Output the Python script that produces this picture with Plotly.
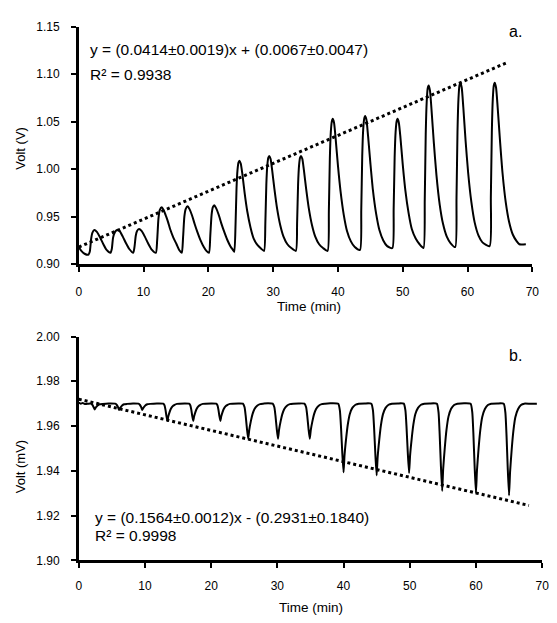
import plotly.graph_objects as go
from plotly.subplots import make_subplots

# --- panel a: voltage (V) vs time (min) ---
time_a = [0, 0.4, 0.9, 1.5,
          1.7, 1.9, 2.1, 2.4, 2.8, 3.3, 3.8, 4.3, 4.9,
          5.1, 5.3, 5.6, 5.9, 6.3, 6.8, 7.3, 7.8, 8.4,
          8.6, 8.8, 9.0, 9.3, 9.7, 10.2, 10.7, 11.3, 11.9,
          12.1, 12.3, 12.5, 12.8, 13.1, 13.5, 13.8, 14.1, 14.6, 15.1, 15.5, 15.9,
          16.1, 16.3, 16.5, 16.8, 17.1, 17.5, 17.9, 18.3, 18.8, 19.3, 19.7, 20.1,
          20.3, 20.5, 20.7, 20.9, 21.2, 21.6, 22.0, 22.4, 22.9, 23.4, 23.8,
          24.0, 24.2, 24.35, 24.5, 24.65, 24.8, 25.0, 25.25, 25.6, 26.0, 26.5, 27.0, 27.6, 28.2,
          28.6, 28.8, 28.95, 29.1, 29.25, 29.4, 29.6, 29.85, 30.2, 30.6, 31.1, 31.6, 32.2, 32.8,
          33.5, 33.7, 33.85, 34.0, 34.15, 34.3, 34.5, 34.75, 35.1, 35.5, 36.0, 36.5, 37.1, 37.7,
          38.4, 38.6, 38.75, 38.9, 39.05, 39.2, 39.4, 39.65, 40.0, 40.4, 40.9, 41.4, 42.0, 42.6,
          43.4, 43.6, 43.75, 43.9, 44.05, 44.2, 44.4, 44.65, 45.0, 45.4, 45.9, 46.4, 47.0, 47.6,
          48.4, 48.6, 48.75, 48.9, 49.05, 49.2, 49.4, 49.65, 50.0, 50.4, 50.9, 51.4, 52.0, 52.6,
          53.2, 53.4, 53.55, 53.7, 53.85, 54.0, 54.2, 54.45, 54.8, 55.2, 55.7, 56.2, 56.8, 57.4,
          58.1, 58.3, 58.45, 58.6, 58.75, 58.9, 59.1, 59.35, 59.7, 60.1, 60.6, 61.1, 61.7, 62.3,
          63.4, 63.6, 63.75, 63.9, 64.05, 64.2, 64.4, 64.65, 65.0, 65.4, 65.9, 66.4, 67.0, 67.6,
          68.0, 69.0]
volt_a = [0.918, 0.914, 0.911, 0.910,
          0.913, 0.926, 0.933, 0.936, 0.934, 0.928, 0.921, 0.915, 0.912,
          0.916, 0.928, 0.934, 0.936, 0.935, 0.929, 0.922, 0.916, 0.912,
          0.918, 0.930, 0.935, 0.937, 0.935, 0.929, 0.922, 0.915, 0.912,
          0.925, 0.948, 0.957, 0.960, 0.957, 0.950, 0.944, 0.937, 0.928, 0.921, 0.915, 0.912,
          0.928, 0.950, 0.958, 0.961, 0.958, 0.951, 0.942, 0.934, 0.925, 0.918, 0.914, 0.912,
          0.930, 0.952, 0.960, 0.962, 0.959, 0.952, 0.943, 0.935, 0.926, 0.919, 0.915,
          0.913, 0.942, 0.980, 0.999, 1.007, 1.009, 1.006, 0.995, 0.975, 0.956, 0.939, 0.927, 0.920, 0.916,
          0.914, 0.944, 0.984, 1.004, 1.012, 1.014, 1.011, 0.999, 0.979, 0.959, 0.941, 0.929, 0.921, 0.917,
          0.914, 0.944, 0.984, 1.004, 1.012, 1.014, 1.011, 0.999, 0.979, 0.959, 0.941, 0.929, 0.921, 0.917,
          0.914, 0.956, 1.011, 1.039, 1.050, 1.053, 1.049, 1.032, 1.004, 0.977, 0.952, 0.935, 0.924, 0.918,
          0.915, 0.957, 1.014, 1.042, 1.053, 1.056, 1.052, 1.035, 1.007, 0.978, 0.953, 0.936, 0.925, 0.919,
          0.917, 0.958, 1.012, 1.039, 1.050, 1.053, 1.049, 1.033, 1.005, 0.978, 0.954, 0.937, 0.927, 0.921,
          0.917, 0.968, 1.037, 1.071, 1.085, 1.088, 1.083, 1.062, 1.028, 0.994, 0.963, 0.943, 0.929, 0.922,
          0.918, 0.970, 1.039, 1.074, 1.088, 1.091, 1.086, 1.065, 1.030, 0.996, 0.965, 0.944, 0.930, 0.923,
          0.919, 0.971, 1.039, 1.074, 1.088, 1.091, 1.086, 1.065, 1.031, 0.996, 0.965, 0.945, 0.931, 0.924,
          0.921, 0.921]
trend_a_x = [0, 66]
trend_a_y = [0.918, 1.112]

# --- panel b: voltage (mV) vs time (min) ---
time_b = [0, 0.3, 0.6, 1.0, 1.5,
          1.8, 2.05, 2.25, 2.4, 2.6, 2.85, 3.15, 3.6, 4.5,
          5.5, 5.75, 5.95, 6.1, 6.3, 6.55, 6.85, 7.3, 8.2,
          9.0, 9.25, 9.45, 9.6, 9.8, 10.05, 10.35, 10.8, 11.8,
          12.76, 12.96, 13.1, 13.24, 13.4, 13.52, 13.72, 13.92, 14.16, 14.48, 14.84, 15.24, 16.0,
          16.66, 16.86, 17.0, 17.14, 17.3, 17.42, 17.62, 17.82, 18.06, 18.38, 18.74, 19.14, 20.0,
          20.76, 20.96, 21.1, 21.24, 21.4, 21.52, 21.72, 21.92, 22.16, 22.48, 22.84, 23.24, 24.1,
          24.8, 25.05, 25.22, 25.4, 25.6, 25.75, 26.0, 26.25, 26.55, 26.95, 27.4, 27.9, 28.6,
          29.3, 29.55, 29.72, 29.9, 30.1, 30.25, 30.5, 30.75, 31.05, 31.45, 31.9, 32.4, 33.2,
          34.1, 34.35, 34.52, 34.7, 34.9, 35.05, 35.3, 35.55, 35.85, 36.25, 36.7, 37.2, 38.0,
          39.2, 39.45, 39.62, 39.8, 40.0, 40.15, 40.4, 40.65, 40.95, 41.35, 41.8, 42.3, 43.2,
          44.2, 44.45, 44.62, 44.8, 45.0, 45.15, 45.4, 45.65, 45.95, 46.35, 46.8, 47.3, 48.2,
          49.1, 49.35, 49.52, 49.7, 49.9, 50.05, 50.3, 50.55, 50.85, 51.25, 51.7, 52.2, 53.0,
          54.1, 54.35, 54.52, 54.7, 54.9, 55.05, 55.3, 55.55, 55.85, 56.25, 56.7, 57.2, 58.2,
          59.2, 59.45, 59.62, 59.8, 60.0, 60.15, 60.4, 60.65, 60.95, 61.35, 61.8, 62.3, 63.2,
          64.2, 64.45, 64.62, 64.8, 65.0, 65.15, 65.4, 65.65, 65.95, 66.35, 66.8, 67.3, 68.3, 69.2]
volt_b = [1.9705, 1.9700, 1.9703, 1.9698, 1.9700,
          1.9700, 1.9695, 1.9684, 1.9674, 1.9684, 1.9692, 1.9697, 1.9699, 1.9701,
          1.9700, 1.9694, 1.9683, 1.9672, 1.9683, 1.9692, 1.9697, 1.9699, 1.9701,
          1.9700, 1.9694, 1.9683, 1.9672, 1.9683, 1.9692, 1.9697, 1.9699, 1.9701,
          1.9700, 1.9692, 1.9673, 1.9646, 1.9623, 1.9642, 1.9662, 1.9677, 1.9688, 1.9695, 1.9699, 1.9700, 1.9701,
          1.9700, 1.9692, 1.9673, 1.9646, 1.9623, 1.9642, 1.9662, 1.9677, 1.9688, 1.9695, 1.9699, 1.9700, 1.9701,
          1.9700, 1.9692, 1.9673, 1.9646, 1.9623, 1.9642, 1.9662, 1.9677, 1.9688, 1.9695, 1.9699, 1.9700, 1.9701,
          1.9700, 1.9684, 1.9645, 1.9590, 1.9543, 1.9582, 1.9622, 1.9653, 1.9676, 1.9691, 1.9698, 1.9700, 1.9702,
          1.9700, 1.9684, 1.9645, 1.9590, 1.9543, 1.9582, 1.9622, 1.9653, 1.9676, 1.9691, 1.9698, 1.9700, 1.9701,
          1.9700, 1.9684, 1.9645, 1.9590, 1.9543, 1.9582, 1.9622, 1.9653, 1.9676, 1.9691, 1.9698, 1.9700, 1.9702,
          1.9700, 1.9669, 1.9593, 1.9485, 1.9393, 1.9470, 1.9547, 1.9608, 1.9654, 1.9682, 1.9695, 1.9700, 1.9701,
          1.9700, 1.9668, 1.9588, 1.9476, 1.9380, 1.9460, 1.9540, 1.9604, 1.9652, 1.9681, 1.9695, 1.9700, 1.9701,
          1.9700, 1.9669, 1.9592, 1.9483, 1.9390, 1.9468, 1.9545, 1.9607, 1.9654, 1.9681, 1.9695, 1.9700, 1.9701,
          1.9700, 1.9661, 1.9564, 1.9427, 1.9310, 1.9408, 1.9505, 1.9583, 1.9642, 1.9677, 1.9694, 1.9700, 1.9702,
          1.9700, 1.9660, 1.9560, 1.9420, 1.9300, 1.9400, 1.9500, 1.9580, 1.9640, 1.9676, 1.9694, 1.9700, 1.9701,
          1.9700, 1.9659, 1.9557, 1.9413, 1.9290, 1.9393, 1.9495, 1.9577, 1.9639, 1.9675, 1.9694, 1.9700, 1.9699, 1.9700]
trend_b_x = [0, 68]
trend_b_y = [1.972, 1.9245]

# the page puts the plot 8 px in from the top-left corner, so work in page pixels minus 8
OFF = 8
W, H = 557 - OFF, 623 - OFF
FONT = "Liberation Sans, Arial, sans-serif"


def px_x(p):
    return (p - OFF) / W


def px_y(p):
    return 1 - (p - OFF) / H


fig = make_subplots(rows=2, cols=1)

fig.add_trace(go.Scatter(x=time_a, y=volt_a, mode="lines", line_shape="spline",
                         line=dict(color="black", width=2, smoothing=0.6)), row=1, col=1)
fig.add_trace(go.Scatter(x=trend_a_x, y=trend_a_y, mode="lines",
                         line=dict(color="black", width=3, dash="dot")), row=1, col=1)
fig.add_trace(go.Scatter(x=time_b, y=volt_b, mode="lines", line_shape="spline",
                         line=dict(color="black", width=2, smoothing=0.5)), row=2, col=1)
fig.add_trace(go.Scatter(x=trend_b_x, y=trend_b_y, mode="lines",
                         line=dict(color="black", width=3, dash="dot")), row=2, col=1)

axis_style = dict(showline=True, linecolor="black", linewidth=2.5, ticks="outside",
                  ticklen=5, tickwidth=2, tickcolor="black", showgrid=False, zeroline=False,
                  tickfont=dict(family=FONT, size=12, color="black"))

fig.update_xaxes(axis_style)
fig.update_yaxes(axis_style)
fig.update_xaxes(range=[0, 70], dtick=10, ticklabelstandoff=10)
fig.update_yaxes(ticklabelstandoff=9, tickformat=".2f")

fig.update_layout(
    xaxis=dict(domain=[px_x(77), px_x(539)]),
    yaxis=dict(domain=[px_y(263), px_y(20)], range=[0.90, 1.15], dtick=0.05),
    xaxis2=dict(domain=[px_x(77), px_x(549)], ticklabelstandoff=8),
    yaxis2=dict(domain=[px_y(566), px_y(337)], range=[1.90, 2.00], dtick=0.02),
)

# text placed in page pixel positions
notes = [
    ("y = (0.0414±0.0019)x + (0.0067±0.0047)", 86, 43, 15.5, "left", 0),
    ("R² = 0.9938", 86, 69, 15.5, "left", 0),
    ("a.", 522, 25, 16, "center", 0),
    ("Time (min)", 312, 306, 13.5, "center", 0),
    ("Volt (V)", 18, 144, 13, "center", -90),
    ("y = (0.1564±0.0012)x - (0.2931±0.1840)", 92, 522, 15.5, "left", 0),
    ("R² = 0.9998", 92, 541, 15.5, "left", 0),
    ("b.", 522, 356, 16, "center", 0),
    ("Time (min)", 314, 614, 13.5, "center", 0),
    ("Volt (mV)", 18, 470, 13, "center", -90),
]
for text, px, py, size, anchor, angle in notes:
    fig.add_annotation(text=text, x=px_x(px), y=px_y(py), xref="paper", yref="paper",
                       xanchor=anchor, yanchor="middle", showarrow=False, textangle=angle,
                       font=dict(family=FONT, size=size, color="black"))

fig.update_layout(width=W, height=H, margin=dict(l=0, r=0, t=0, b=0),
                  plot_bgcolor="white", paper_bgcolor="white", showlegend=False)

fig.write_html("out.html")
